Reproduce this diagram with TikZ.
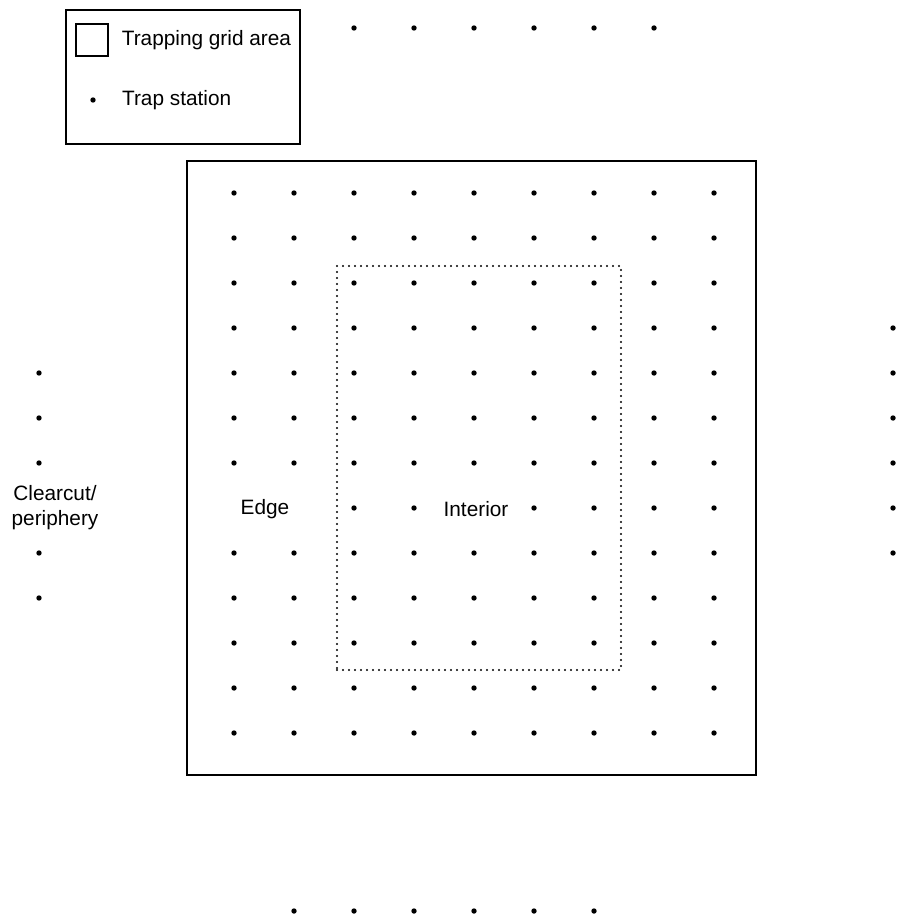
\documentclass[tikz,border=0pt]{standalone}
\usepackage{fontspec}
\setmainfont{Liberation Sans}
\usetikzlibrary{positioning}

\begin{document}
\begin{tikzpicture}[
  x=1pt,
  y=-1pt,
  trap/.style={circle, fill=black, minimum size=5.4pt, inner sep=0pt},
  gridarea/.style={draw, line width=2.2pt, inner sep=0pt},
  interiorzone/.style={draw, line width=2.1pt, line cap=round, dash pattern=on 0pt off 6pt, inner sep=0pt},
  legendbox/.style={draw, line width=1.3pt, inner sep=0pt},
  zonetext/.style={font=\fontsize{20.8}{25}\selectfont, align=center, inner sep=0pt}
]
  \useasboundingbox (0,0) rectangle (897,917);

  % legend
  \node[legendbox, minimum width=234pt, minimum height=134pt] (legend) at (183,77) {};
  \node[legendbox, minimum size=32pt] (keysq) at (92,40) {};
  \node[zonetext, anchor=west, right=13pt of keysq] (keysqtext) {Trapping grid area};
  \node[trap] (keydot) at (93,100) {};
  \node[zonetext, anchor=west, right=26pt of keydot] (keydottext) {Trap station};

  % trapping grid and interior
  \node[gridarea, minimum width=569pt, minimum height=614pt] (area) at (471.5,468) {};
  \node[interiorzone, minimum width=284pt, minimum height=404pt] (interior) at (479,468) {};

  \foreach \r in {0,...,12}{
    \foreach \c in {0,...,8}{
      \pgfmathtruncatemacro{\nodot}{(\r==7)*((\c==0)+(\c==1)+(\c==4))}
      \ifnum\nodot=0
        \node[trap] (g-\r-\c) at (234+60*\c,193+45*\r) {};
      \fi
    }
  }

  % clearcut / periphery traps
  \foreach \i in {0,...,5}{
    \node[trap] (top-\i) at (354+60*\i,28) {};
    \node[trap] (bot-\i) at (294+60*\i,911) {};
    \node[trap] (right-\i) at (893,328+45*\i) {};
  }
  \foreach \i in {0,1,2,4,5}{
    \node[trap] (left-\i) at (39,373+45*\i) {};
  }

  \node[zonetext] (clearcut) at (55,508) {Clearcut/\\periphery};
  \node[zonetext] (edge) at (265,509) {Edge};
  \node[zonetext] (inner) at (476,509) {Interior};
\end{tikzpicture}
\end{document}
